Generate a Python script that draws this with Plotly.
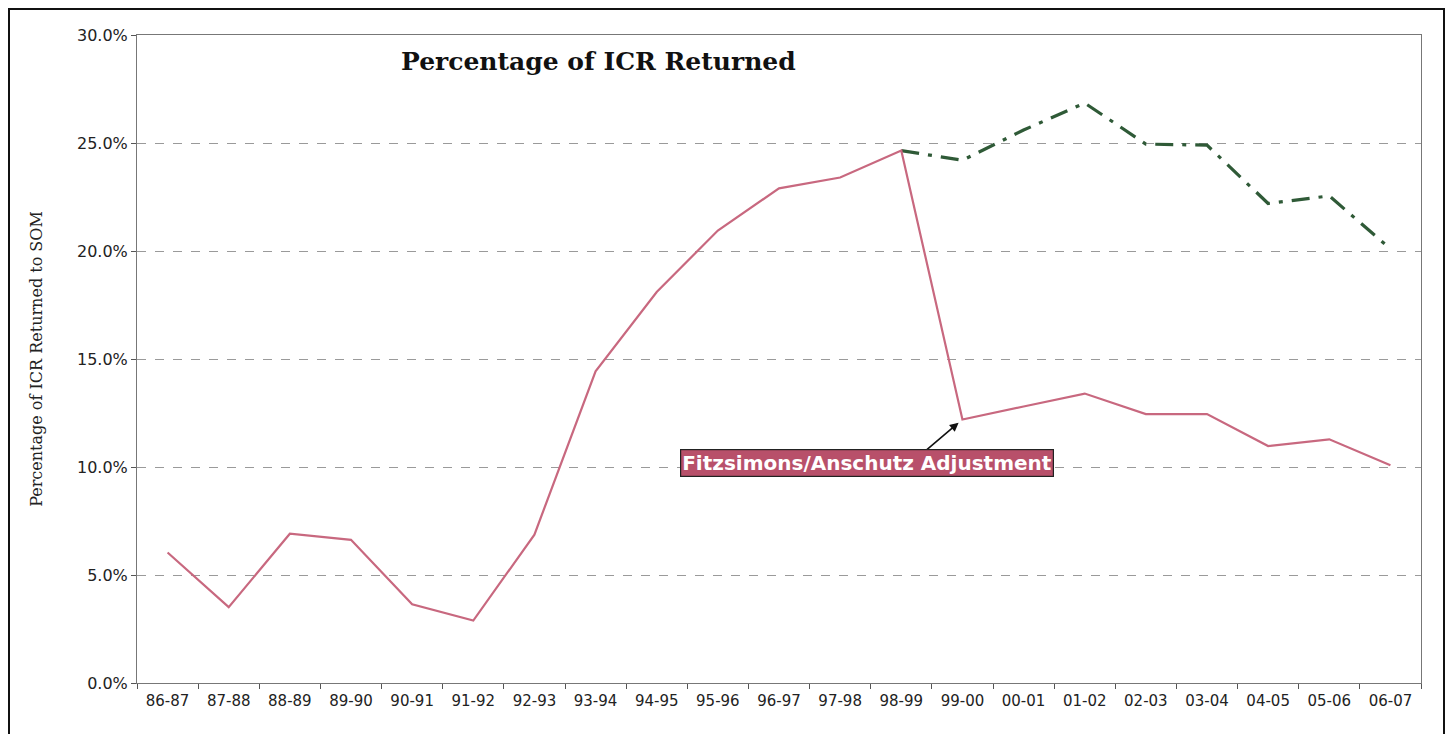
import plotly.graph_objects as go

YEARS = [
    "86-87", "87-88", "88-89", "89-90", "90-91", "91-92", "92-93", "93-94",
    "94-95", "95-96", "96-97", "97-98", "98-99", "99-00", "00-01", "01-02",
    "02-03", "03-04", "04-05", "05-06", "06-07",
]
# share of ICR returned, after the Fitzsimons/Anschutz adjustment
ADJUSTED = [
    0.0604, 0.0351, 0.0691, 0.0663, 0.0364, 0.0289, 0.0687, 0.1443,
    0.1810, 0.2095, 0.2290, 0.2340, 0.2465, 0.1220, 0.1280, 0.1340,
    0.1245, 0.1245, 0.1097, 0.1128, 0.1008,
]
# unadjusted series, only shown from 98-99 on
UNADJ_YEARS = YEARS[12:]
UNADJUSTED = [0.2465, 0.2420, 0.2560, 0.2685, 0.2495, 0.2490, 0.2220, 0.2255, 0.2010]
Y_TICKS = [0, 0.05, 0.10, 0.15, 0.20, 0.25, 0.30]

PINK = "#c8687f"
GREEN = "#2f5a37"
SANS = "DejaVu Sans, Arial, sans-serif"
SERIF = "DejaVu Serif, Century Schoolbook, serif"

# plot area in page pixels (the page body adds an 8px margin)
PX_L, PX_R, PX_T, PX_B = 137, 1421, 35, 683


def px(x):
    return (x - PX_L) / (PX_R - PX_L)


def py(y):
    return (PX_B - y) / (PX_B - PX_T)


fig = go.Figure()
fig.add_trace(go.Scatter(
    x=UNADJ_YEARS, y=UNADJUSTED, mode="lines",
    line=dict(color=GREEN, width=3.2, dash="18px,9px,4px,9px"),
    showlegend=False,
))
fig.add_trace(go.Scatter(
    x=YEARS, y=ADJUSTED, mode="lines",
    line=dict(color=PINK, width=2.2),
    showlegend=False,
))

# arrow only
fig.add_annotation(
    x="99-00", y=ADJUSTED[13], text="", showarrow=True,
    ax=-40, ay=34, arrowhead=2, arrowsize=1.1, arrowwidth=1.6,
    arrowcolor="#111111", standoff=5,
)
# label box
fig.add_annotation(
    xref="paper", yref="paper", x=px(867), y=py(463),
    text="<b>Fitzsimons/Anschutz Adjustment</b>", showarrow=False,
    font=dict(family=SANS, size=20, color="white"),
    bgcolor="#b8506a", bordercolor="#222222", borderwidth=1.2, borderpad=1,
    xanchor="center", yanchor="middle",
)
fig.add_annotation(
    xref="paper", yref="paper", x=px(598), y=py(62),
    text="<b>Percentage of ICR Returned</b>", showarrow=False,
    font=dict(family=SERIF, size=25, color="#111111"),
    xanchor="center", yanchor="middle",
)

# outer frame of the figure
fig.add_shape(
    type="rect", xref="paper", yref="paper",
    x0=px(9), x1=px(1444), y0=py(760), y1=py(9),
    line=dict(color="#111111", width=2), layer="below",
)

fig.update_layout(
    width=1446, height=726,
    margin=dict(l=PX_L - 8, r=1446 + 8 - PX_R, t=PX_T - 8, b=726 + 8 - PX_B),
    paper_bgcolor="white", plot_bgcolor="white",
    font=dict(family=SANS, size=15, color="#222222"),
)
fig.update_xaxes(
    type="category", categoryorder="array", categoryarray=YEARS,
    range=[-0.5, len(YEARS) - 0.5],
    tickson="boundaries", ticks="outside", ticklen=5, tickcolor="#555555",
    ticklabelstandoff=4,
    showline=True, linecolor="#777777", mirror=True, showgrid=False,
    tickfont=dict(family=SANS, size=15, color="#222222"),
)
fig.update_yaxes(
    range=[0, 0.30], tickvals=Y_TICKS, tickformat=".1%",
    ticks="outside", ticklen=5, tickcolor="#555555",
    showline=True, linecolor="#777777", mirror=True,
    showgrid=True, gridcolor="#9a9a9a", griddash="dash", gridwidth=1,
    zeroline=False,
    tickfont=dict(family=SANS, size=16, color="#222222"),
    title=dict(text="Percentage of ICR Returned to SOM", standoff=30,
               font=dict(family=SERIF, size=16, color="#222222")),
)

fig.write_html("out.html")
